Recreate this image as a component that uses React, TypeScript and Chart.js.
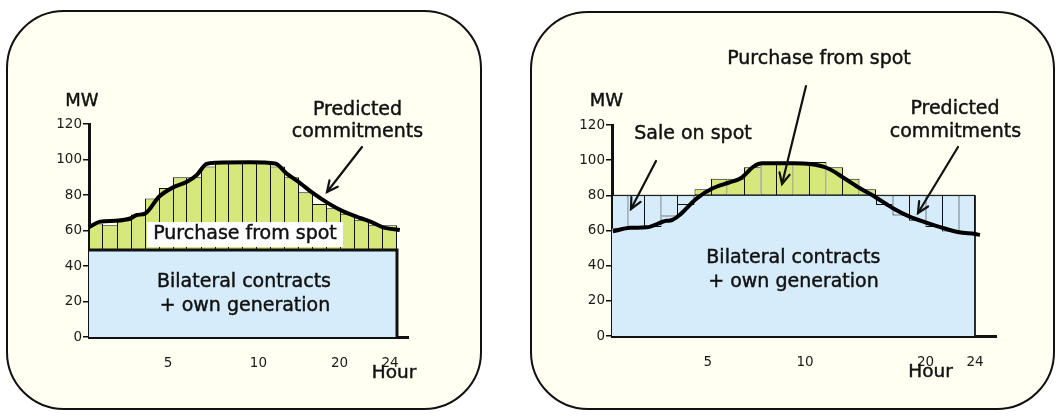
import React, { useEffect, useRef } from "react";
import { Chart, registerables } from "chart.js";

Chart.register(...registerables);

const W = 1063;
const H = 419;
const FONT = "'DejaVu Sans', Verdana, sans-serif";
const CREAM = "#fffff2";
const GREEN = "#d6e77c";
const BLUE = "#d6ecfa";
const INK = "#111111";
const TICK_INK = "#1a1a1a";

// ---- data ----
const hourSlots = [1, 2, 3, 4, 5, 6, 7, 8, 9, 10, 11, 12, 13, 14, 15, 16, 17, 18, 19, 20, 21, 22];
const yTickStep = 20;
const yMax = 120;
const hourTickLabels = ["5", "10", "20", "24"];

// left panel: purchase from spot
const leftBilateral = 49;
const leftCommitBars = [64, 63, 66, 69, 78, 84, 90, 90, 96, 98.5, 98.5, 98.5, 98.5, 96, 90, 81.5, 75, 72.5, 69.5, 66, 63, 63];
const leftCurveHours = [0, 0.8, 1.9, 3.0, 3.4, 4.0, 5.0, 6.0, 7.0, 7.7, 8.4, 9.1, 11.5, 13.3, 14.1, 15.1, 16.0, 17.1, 18.2, 19.1, 20.1, 21.0, 22.2];
const leftCurveMW = [61.8, 65, 65.5, 66.9, 68.7, 69.5, 79, 84.3, 87.5, 91.3, 97.5, 98.2, 98.4, 97.7, 92.2, 86.6, 81, 75.3, 70.6, 67.8, 65, 61.8, 60.3];
const leftHourTickPos = [5.65, 12.1, 17.9, 21.5];
const leftAxisEnd = 22.8;

// right panel: purchase / sale on spot
const rightBilateral = 80;
const rightCommitBars = [61, 62, 62, 68, 74.5, 83.5, 89.5, 89.5, 96, 99, 99, 99, 99, 96, 89.5, 83.5, 74.5, 68.5, 65.5, 62, 59.5, 58.5];
const rightCurveHours = [0.05, 1.1, 2.1, 3.3, 3.6, 4.1, 5.1, 6.1, 7.1, 7.8, 8.6, 9.1, 11.0, 12.0, 13.07, 14.03, 15.03, 16.0, 17.0, 18.03, 19.04, 20.04, 21.03, 22.0, 22.3];
const rightCurveMW = [59.5, 61.5, 61.8, 65.5, 65.8, 68.8, 78, 84, 87.3, 89.7, 96.5, 98.2, 98.2, 97.8, 95.4, 90, 84, 78.8, 72.8, 67.9, 64.5, 61.5, 59, 58, 57.5];
const rightHourTickPos = [5.8, 11.7, 19.0, 22.0];
const rightAxisEnd = 23.33;

// ---- layout (page pixels) ----
type Txt = { t: string; x: number; y: number; size: number; bg?: [number, number, number, number] };
type Arrow = { x1: number; y1: number; x2: number; y2: number };
type Panel = {
  area: { left: number; top: number; right: number; bottom: number };
  bilateral: number;
  boxBorder: number;
  bars: number[];
  curveHours: number[];
  curveMW: number[];
  tickPos: number[];
  axisEnd: number;
  texts: Txt[];
  arrows: Arrow[];
};

const leftPanel: Panel = {
  area: { left: 89, top: 124, right: 89 + 14 * leftAxisEnd, bottom: 337 },
  bilateral: leftBilateral,
  boxBorder: 3,
  bars: leftCommitBars,
  curveHours: leftCurveHours,
  curveMW: leftCurveMW,
  tickPos: leftHourTickPos,
  axisEnd: leftAxisEnd,
  texts: [
    { t: "MW", x: 82, y: 101, size: 18 },
    { t: "Predicted", x: 357.5, y: 110, size: 19 },
    { t: "commitments", x: 357.5, y: 132, size: 19 },
    { t: "Purchase from spot", x: 245, y: 234, size: 19, bg: [147, 222, 196, 25] },
    { t: "Bilateral contracts", x: 244, y: 282, size: 19 },
    { t: "+ own generation", x: 245, y: 306, size: 19 },
    { t: "Hour", x: 394, y: 373, size: 18.5 },
  ],
  arrows: [{ x1: 362, y1: 147, x2: 327, y2: 192 }],
};

const rightPanel: Panel = {
  area: { left: 612, top: 125, right: 612 + 16.5 * rightAxisEnd, bottom: 336 },
  bilateral: rightBilateral,
  boxBorder: 1,
  bars: rightCommitBars,
  curveHours: rightCurveHours,
  curveMW: rightCurveMW,
  tickPos: rightHourTickPos,
  axisEnd: rightAxisEnd,
  texts: [
    { t: "MW", x: 606.5, y: 101.5, size: 18 },
    { t: "Purchase from spot", x: 819, y: 59.5, size: 19 },
    { t: "Sale on spot", x: 693, y: 134, size: 19 },
    { t: "Predicted", x: 955, y: 109, size: 19 },
    { t: "commitments", x: 955.5, y: 132.5, size: 19 },
    { t: "Bilateral contracts", x: 793.3, y: 258.5, size: 19 },
    { t: "+ own generation", x: 793.5, y: 282.5, size: 19 },
    { t: "Hour", x: 930.5, y: 372, size: 18.5 },
  ],
  arrows: [
    { x1: 806, y1: 86, x2: 782, y2: 184 },
    { x1: 656, y1: 161, x2: 631, y2: 209 },
    { x1: 958, y1: 147, x2: 918, y2: 213 },
  ],
};

function drawArrow(ctx: CanvasRenderingContext2D, a: Arrow) {
  ctx.save();
  ctx.strokeStyle = INK;
  ctx.lineWidth = 2.2;
  ctx.lineCap = "round";
  ctx.beginPath();
  ctx.moveTo(a.x1, a.y1);
  ctx.lineTo(a.x2, a.y2);
  ctx.stroke();
  const ang = Math.atan2(a.y2 - a.y1, a.x2 - a.x1);
  const L = 12;
  const s = 0.45;
  ctx.beginPath();
  ctx.moveTo(a.x2 - L * Math.cos(ang - s), a.y2 - L * Math.sin(ang - s));
  ctx.lineTo(a.x2, a.y2);
  ctx.lineTo(a.x2 - L * Math.cos(ang + s), a.y2 - L * Math.sin(ang + s));
  ctx.stroke();
  ctx.restore();
}

function buildConfig(p: Panel): any {
  const n = p.bars.length;
  const ext = (i: number) => p.bars[i] - p.bilateral;
  const sameSide = (i: number, j: number) =>
    j >= 0 && j < n && Math.sign(ext(j)) === Math.sign(ext(i));

  const annotate = {
    id: "annotate",
    afterDraw(chart: any) {
      const ctx: CanvasRenderingContext2D = chart.ctx;
      ctx.save();
      for (const tx of p.texts) {
        if (tx.bg) {
          ctx.fillStyle = "#ffffff";
          ctx.fillRect(tx.bg[0], tx.bg[1], tx.bg[2], tx.bg[3]);
        }
        ctx.font = `${tx.size}px ${FONT}`;
        ctx.fillStyle = INK;
        ctx.strokeStyle = INK;
        ctx.lineWidth = 0.45;
        ctx.textAlign = "center";
        ctx.textBaseline = "middle";
        ctx.fillText(tx.t, tx.x, tx.y);
        ctx.strokeText(tx.t, tx.x, tx.y);
      }
      ctx.restore();
      for (const a of p.arrows) drawArrow(ctx, a);
    },
  };

  return {
    type: "bar",
    data: {
      datasets: [
        {
          type: "line",
          label: "Predicted commitments",
          data: p.curveHours.map((h, i) => ({ x: h, y: p.curveMW[i] })),
          borderColor: "#000000",
          borderWidth: 4,
          pointRadius: 0,
          cubicInterpolationMode: "monotone",
          fill: false,
          order: 0,
        },
        {
          type: "bar",
          label: "Spot trade",
          data: p.bars.map((v, i) => ({
            x: hourSlots[i] - 0.5,
            y: [Math.min(v, p.bilateral), Math.max(v, p.bilateral)],
          })),
          backgroundColor: p.bars.map((v) => (v >= p.bilateral ? GREEN : BLUE)),
          borderColor: INK,
          borderSkipped: false,
          inflateAmount: 0,
          borderWidth: (c: any) => {
            const i = c.dataIndex;
            if (i === undefined) return 1;
            const e = Math.abs(ext(i));
            const left = sameSide(i, i - 1) && Math.abs(ext(i - 1)) >= e ? 0 : 1;
            const right = sameSide(i, i + 1) && Math.abs(ext(i + 1)) > e ? 0 : 1;
            return { top: 1, bottom: 1, left, right };
          },
          barPercentage: 1,
          categoryPercentage: 1,
          grouped: false,
          order: p.boxBorder > 1 ? 2 : 1,
        },
        {
          type: "line",
          label: "Bilateral contracts + own generation",
          data: [
            { x: 0, y: p.bilateral },
            { x: hourSlots[n - 1], y: p.bilateral },
            { x: hourSlots[n - 1], y: 0 },
          ],
          borderColor: INK,
          borderWidth: p.boxBorder,
          borderJoinStyle: "miter",
          backgroundColor: BLUE,
          fill: "origin",
          pointRadius: 0,
          tension: 0,
          order: p.boxBorder > 1 ? 1 : 2,
        },
      ],
    },
    options: {
      responsive: false,
      animation: false,
      devicePixelRatio: 1,
      events: [],
      layout: {
        padding: {
          left: p.area.left - 40,
          top: p.area.top,
          right: W - p.area.right,
          bottom: H - p.area.bottom - 40,
        },
      },
      plugins: {
        legend: { display: false },
        tooltip: { enabled: false },
      },
      scales: {
        x: {
          type: "linear",
          min: 0,
          max: p.axisEnd,
          offset: false,
          bounds: "data",
          z: 1,
          grid: { display: false, offset: false },
          border: { display: true, color: INK, width: 3 },
          afterFit: (s: any) => {
            s.height = 40;
          },
          afterBuildTicks: (s: any) => {
            s.ticks = p.tickPos.map((v) => ({ value: v }));
          },
          ticks: {
            autoSkip: false,
            maxRotation: 0,
            padding: 10,
            color: TICK_INK,
            font: { family: FONT, size: 13.5 },
            callback: (_v: any, idx: number) => hourTickLabels[idx],
          },
        },
        y: {
          type: "linear",
          min: 0,
          max: yMax,
          z: 1,
          grid: {
            display: true,
            drawOnChartArea: false,
            drawTicks: true,
            tickLength: 6,
            color: INK,
            lineWidth: 1.5,
          },
          border: { display: true, color: INK, width: 3 },
          afterFit: (s: any) => {
            s.width = 40;
          },
          ticks: {
            stepSize: yTickStep,
            padding: 1,
            color: TICK_INK,
            font: { family: FONT, size: 13.5 },
          },
        },
      },
    },
    plugins: [annotate],
  };
}

const panelBox = (left: number, top: number, width: number, height: number): React.CSSProperties => ({
  position: "absolute",
  left,
  top,
  width,
  height,
  boxSizing: "border-box",
  border: `2px solid ${INK}`,
  borderRadius: 58,
  background: CREAM,
});

export default function App() {
  const leftRef = useRef<HTMLCanvasElement>(null);
  const rightRef = useRef<HTMLCanvasElement>(null);

  useEffect(() => {
    document.body.style.margin = "0";
    Chart.defaults.font.family = FONT;
    const c1 = new Chart(leftRef.current as HTMLCanvasElement, buildConfig(leftPanel));
    const c2 = new Chart(rightRef.current as HTMLCanvasElement, buildConfig(rightPanel));
    return () => {
      c1.destroy();
      c2.destroy();
    };
  }, []);

  return (
    <div style={{ position: "relative", width: W, height: H, background: "#ffffff", overflow: "hidden" }}>
      <style>{"body{margin:0}"}</style>
      <div style={panelBox(6, 10, 476, 400)} />
      <div style={panelBox(530, 11, 525, 399)} />
      <canvas ref={leftRef} width={W} height={H} style={{ position: "absolute", left: 0, top: 0 }} />
      <canvas ref={rightRef} width={W} height={H} style={{ position: "absolute", left: 0, top: 0 }} />
    </div>
  );
}
